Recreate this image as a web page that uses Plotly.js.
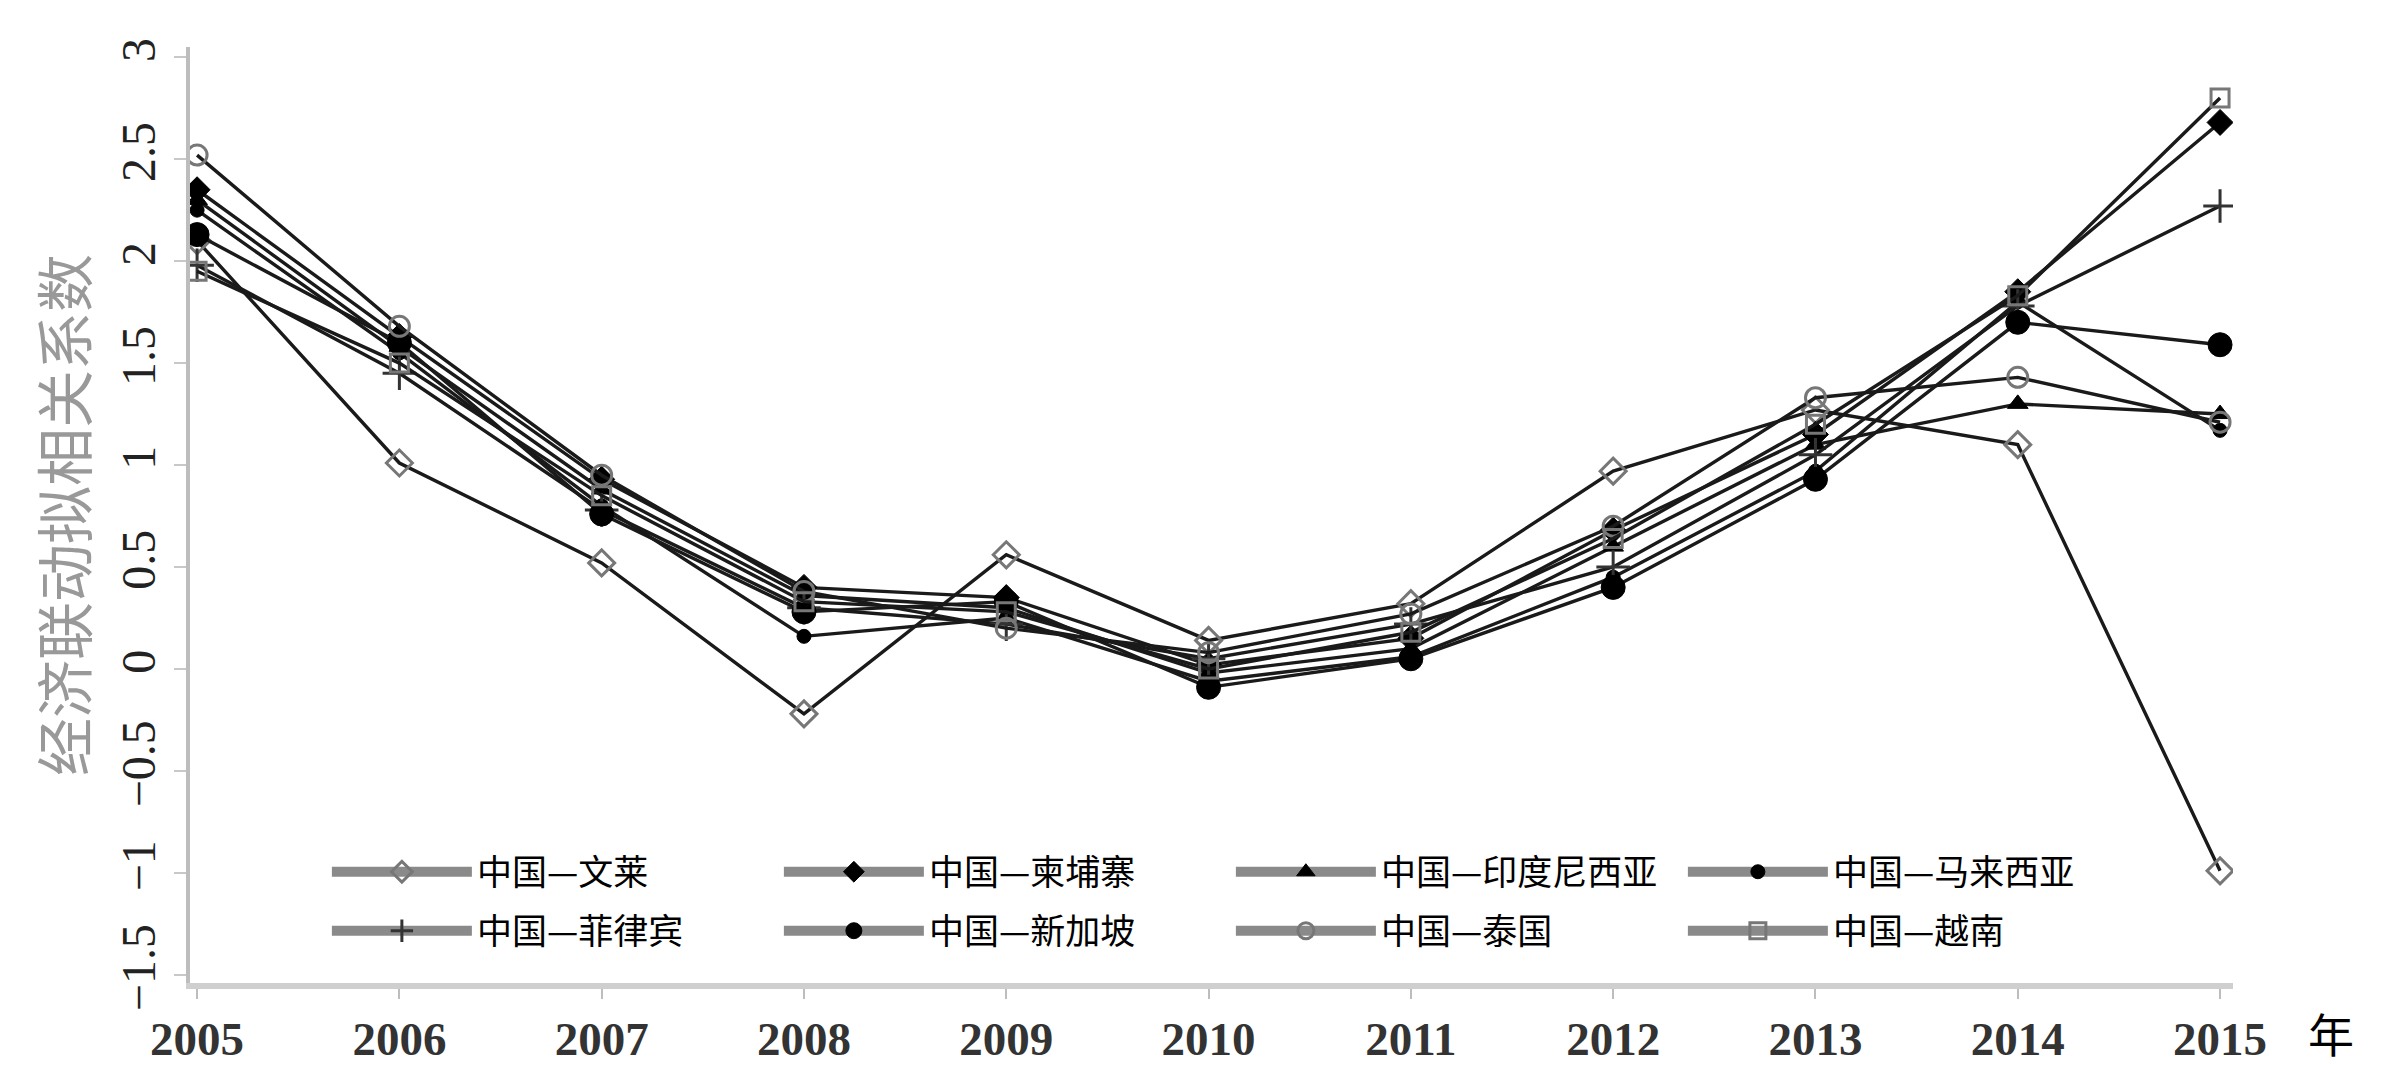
<!DOCTYPE html>
<html><head><meta charset="utf-8">
<script src="https://cdn.plot.ly/plotly-3.0.1.min.js"></script>
<style>html,body{margin:0;padding:0;background:#fff}#chart{width:2392px;height:1078px}</style>
</head><body><div id="chart"></div>
<script>
const years = [2005,2006,2007,2008,2009,2010,2011,2012,2013,2014,2015];
const seriesNames = ['中国—文莱','中国—柬埔寨','中国—印度尼西亚','中国—马来西亚','中国—菲律宾','中国—新加坡','中国—泰国','中国—越南'];
const brunei      = [2.10,1.01,0.52,-0.22,0.56,0.14,0.32,0.97,1.27,1.10,-0.99];
const cambodia    = [2.35,1.63,0.93,0.40,0.35,0.02,0.15,0.68,1.15,1.85,2.68];
const indonesia   = [2.30,1.58,0.88,0.36,0.30,-0.02,0.10,0.60,1.10,1.30,1.25];
const malaysia    = [2.25,1.55,0.80,0.16,0.25,-0.06,0.06,0.45,0.97,1.80,1.17];
const philippines = [1.98,1.45,0.78,0.30,0.22,0.05,0.22,0.50,1.05,1.78,2.27];
const singapore   = [2.13,1.60,0.76,0.28,0.33,-0.09,0.05,0.40,0.93,1.70,1.59];
const thailand    = [2.52,1.68,0.95,0.38,0.20,0.08,0.27,0.70,1.33,1.43,1.21];
const vietnam     = [1.95,1.50,0.85,0.33,0.28,0.00,0.18,0.64,1.20,1.83,2.80];
const yTicks = [-1.5,-1,-0.5,0,0.5,1,1.5,2,2.5,3];

const allValues = [brunei,cambodia,indonesia,malaysia,philippines,singapore,thailand,vietnam];
const styles = [
  {symbol:'diamond-open', size:20, color:'#777', lw:3},
  {symbol:'diamond', size:20, color:'#000', lw:1},
  {symbol:'triangle-up', size:18, color:'#000', lw:1},
  {symbol:'circle', size:14, color:'#000', lw:1},
  {symbol:'cross-thin-open', size:24, color:'#333', lw:3},
  {symbol:'circle', size:24, color:'#000', lw:1},
  {symbol:'circle-open', size:20, color:'#777', lw:3},
  {symbol:'square-open', size:18, color:'#777', lw:3}
];

const traces = [];
allValues.forEach((vals,i)=>{
  const s = styles[i];
  traces.push({
    type:'scatter', mode:'lines+markers', x:years, y:vals, name:seriesNames[i],
    showlegend:false,
    line:{color:'#1a1a1a', width:3.4},
    marker:{symbol:s.symbol, size:s.size, color:s.color, line:{color:s.color, width:s.lw}}
  });
});
// legend entries
allValues.forEach((vals,i)=>{
  const s = styles[i];
  traces.push({
    type:'scatter', mode:'lines+markers', x:[null], y:[null], name:seriesNames[i],
    legend: i<4 ? 'legend' : 'legend2',
    line:{color:'#8a8a8a', width:10},
    marker:{symbol:s.symbol, size:s.size, color:s.color, line:{color:s.color, width:s.lw}},
    hoverinfo:'skip'
  });
});

const legendBase = {
  orientation:'h', xanchor:'left', yanchor:'middle', x:0.067,
  itemwidth:140, entrywidth:297, bgcolor:'rgba(0,0,0,0)', borderwidth:0,
  font:{family:'Noto Sans CJK SC', size:35, color:'#000'}, traceorder:'normal'
};

const layout = {
  width:2392, height:1078,
  margin:{l:190, r:159, t:47, b:95},
  paper_bgcolor:'#fff', plot_bgcolor:'#fff',
  xaxis:{
    range:[2004.965, 2015.064], tickvals:years, tickformat:'d',
    showline:true, linecolor:'#cfcfcf', linewidth:6,
    ticks:'outside', ticklen:10, tickwidth:2, tickcolor:'#bdbdbd',
    showgrid:false, zeroline:false,
    tickfont:{family:'Liberation Serif', size:47, color:'#333', weight:'bold'}
  },
  yaxis:{
    range:[-1.54, 3.05], tickvals:yTicks,
    showline:true, linecolor:'#bdbdbd', linewidth:4,
    ticks:'outside', ticklen:12, tickwidth:2, tickcolor:'#c8c8c8',
    tickangle:-90, showgrid:false, zeroline:false,
    tickfont:{family:'Liberation Serif', size:48, color:'#222'},
    title:{text:'经济联动拟相关系数', font:{family:'Noto Sans CJK SC', size:58, color:'#999'}, standoff:6}
  },
  legend:Object.assign({}, legendBase, {y:0.1186}),
  legend2:Object.assign({}, legendBase, {y:0.0556}),
  annotations:[{
    text:'年', xref:'paper', yref:'paper', x:1.048, y:-0.0524,
    xanchor:'center', yanchor:'middle', showarrow:false,
    font:{family:'Noto Sans CJK SC', size:46, color:'#000'}
  }],
  showlegend:true
};

Plotly.newPlot('chart', traces, layout, {displayModeBar:false, staticPlot:true});
</script></body></html>
